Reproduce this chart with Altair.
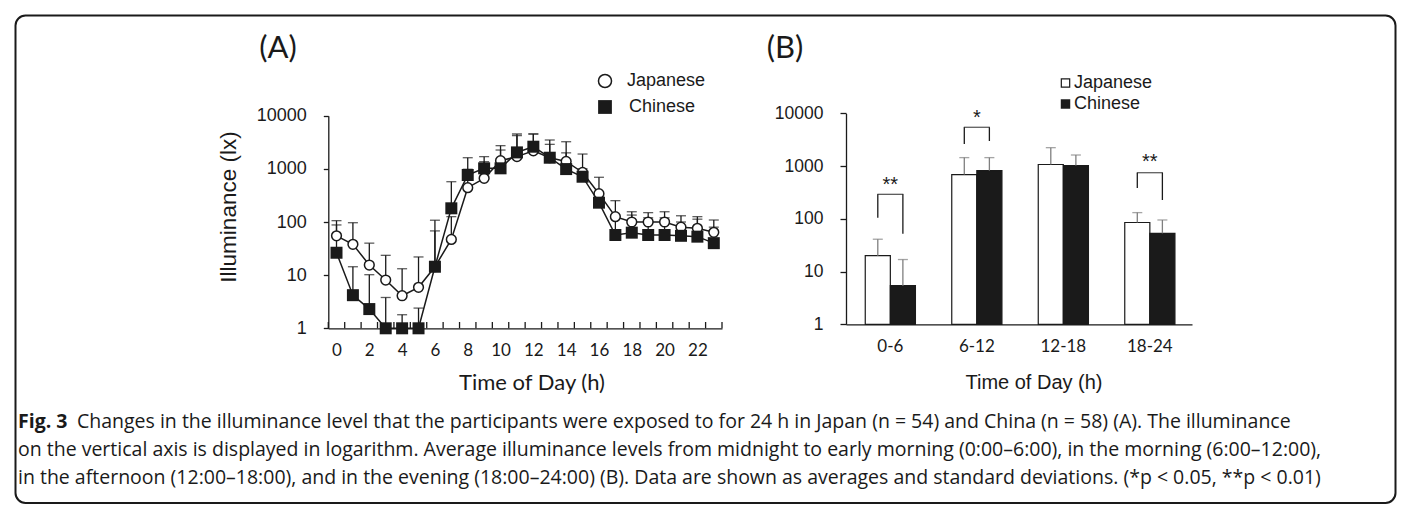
import altair as alt
import pandas as pd

# ---------------- data ----------------
hours = list(range(24))
jp_mean = [55, 38, 15.5, 8.1, 4.1, 5.9, 14.4, 47, 442, 664, 1422, 1698, 2190, 1620,
           1380, 855, 341, 126, 100, 100, 100, 80, 76, 64]
jp_top = [106, 97, 40, 23.6, 13.2, 22, 108, 126, 982, 1364, 2730, 4200, 4530, 3490,
          3240, 1900, 694, 252, 156, 150, 156, 131, 126, 109]
cn_mean = [26.4, 4.2, 2.3, 1, 1, 1, 14.4, 181, 766, 1023, 1023, 2040, 2610, 1620,
           990, 711, 231, 57, 63, 57, 57, 55, 53, 40]
cn_top = [88, 14.4, 10.2, 3.8, 1.8, 2.4, 68, 573, 1620, 1698, 2260, 4530, 4530, 2890,
          2000, 1000, 350, 130, 135, 120, 120, 100, 113, 80]

periods = ["0-6", "6-12", "12-18", "18-24"]
groups = ["Japanese", "Chinese"]
b_jp_mean = [20, 690, 1070, 85]
b_jp_top = [41, 1445, 2230, 131]
b_cn_mean = [5.4, 820, 1020, 53]
b_cn_top = [16.9, 1445, 1620, 95]

sig_periods = ["0-6", "6-12", "18-24"]
sig_labels = ["**", "*", "**"]
sig_top = [291, 5430, 748]
sig_leg_jp = [105, 2618, 384]
sig_leg_cn = [52, 2985, 227]
sig_text_at = [437, 8150, 1194]

yticks = [1, 10, 100, 1000, 10000]
hour_labels = list(range(0, 24, 2))

caption_bold = "Fig. 3"
caption_l1 = ("Changes in the illuminance level that the participants were exposed to for 24 h "
              "in Japan (n = 54) and China (n = 58) (A). The illuminance")
caption_l2 = ("on the vertical axis is displayed in logarithm. Average illuminance levels from "
              "midnight to early morning (0:00\u20136:00), in the morning (6:00\u201312:00),")
caption_l3 = ("in the afternoon (12:00\u201318:00), and in the evening (18:00\u201324:00) (B). "
              "Data are shown as averages and standard deviations. (*p < 0.05, **p < 0.01)")

# ---------------- tables ----------------
dfA = pd.DataFrame({
    "hour": hours + hours,
    "group": ["Japanese"] * 24 + ["Chinese"] * 24,
    "mean": jp_mean + cn_mean,
    "top": jp_top + cn_top,
})
bounds = pd.DataFrame({"b": [h - 0.5 for h in hours] + [hours[-1] + 0.5]})

dfB = pd.DataFrame({
    "period": periods + periods,
    "group": ["Japanese"] * 4 + ["Chinese"] * 4,
    "mean": b_jp_mean + b_cn_mean,
    "top": b_jp_top + b_cn_top,
})
dfLegs = pd.DataFrame({
    "period": sig_periods + sig_periods,
    "group": ["Japanese"] * 3 + ["Chinese"] * 3,
    "bottom": sig_leg_jp + sig_leg_cn,
    "top": sig_top + sig_top,
})
dfSig = pd.DataFrame({"period": sig_periods, "top": sig_top,
                      "label": sig_labels, "at": sig_text_at})

INK = "#1a1a1a"
GREY = "#7f7f7f"
ARIAL = "Liberation Sans"
CAL = "Lato"
CAPF = "Open Sans"
CAPS = 19.5

# ---------------- panel A scales/axes ----------------
xA_scale = alt.Scale(domain=[-0.5, 23.5], range=[328.3, 722], nice=False, zero=False)
yA_scale = alt.Scale(type="log", domain=[1, 10000], range=[328.3, 115.7], nice=False)
axA_x = alt.Axis(orient="bottom", offset=-188.7, values=hour_labels, ticks=False,
                 labelFont=CAL, labelFontSize=17, labelPadding=14, labelColor=INK,
                 labelFlush=False, labelOverlap=False, domainColor=INK, domainWidth=1.3,
                 grid=False, title=None)
axA_y = alt.Axis(orient="left", offset=-328.3, values=yticks, format="d",
                 tickSize=5, tickColor=INK, tickWidth=1.3, labelFont=ARIAL,
                 labelFontSize=18, labelPadding=17, labelColor=INK, labelFlush=False,
                 labelOverlap=False, domainColor=INK, domainWidth=1.3, grid=False,
                 title=None)

def XA(f):
    return alt.X(f, type="quantitative", scale=xA_scale, axis=axA_x)

def YA(f):
    return alt.Y(f, type="quantitative", scale=yA_scale, axis=axA_y)

baseA = alt.Chart(dfA)
a_err = baseA.mark_rule(color=INK, strokeWidth=1.3).encode(
    x=XA("hour"), y=YA("mean"), y2="top")
a_cap = baseA.mark_tick(color=INK, orient="horizontal", size=10, thickness=1.3).encode(
    x=XA("hour"), y=YA("top"))
a_line = baseA.mark_line(color=INK, strokeWidth=1.5).encode(
    x=XA("hour"), y=YA("mean"), detail="group:N")
a_jp = baseA.transform_filter(alt.datum.group == "Japanese").mark_point(
    shape="circle", filled=True, fill="white", stroke=INK, strokeWidth=1.5,
    size=95, opacity=1).encode(x=XA("hour"), y=YA("mean"))
a_cn = baseA.transform_filter(alt.datum.group == "Chinese").mark_point(
    shape="square", filled=True, fill=INK, strokeWidth=0, size=144,
    opacity=1).encode(x=XA("hour"), y=YA("mean"))
a_ticks = alt.Chart(bounds).mark_rule(color=INK, strokeWidth=1.3).encode(
    x=XA("b"), y=alt.value(328.3), y2=alt.value(322))

panelA = alt.layer(a_err, a_cap, a_line, a_jp, a_cn, a_ticks)

# ---------------- panel B scales/axes ----------------
xB_scale = alt.Scale(domain=periods, range=[846, 1192], paddingInner=0.42,
                     paddingOuter=0.21, align=0.53)
yB_scale = alt.Scale(type="log", domain=[1, 10000], range=[324.3, 113.3], nice=False)
off_scale = alt.Scale(domain=groups)
axB_x = alt.Axis(orient="bottom", offset=-192.7, ticks=False, labelAngle=0,
                 labelFont=CAL, labelFontSize=17, labelPadding=14, labelColor=INK,
                 domainColor=INK, domainWidth=1.3, grid=False, title=None)
axB_y = alt.Axis(orient="left", offset=-846, values=yticks, format="d",
                 tickSize=6, tickColor=INK, tickWidth=1.3, labelFont=ARIAL,
                 labelFontSize=17.5, labelPadding=17, labelColor=INK, labelFlush=False,
                 labelOverlap=False, domainColor=INK, domainWidth=1.3, grid=False,
                 title=None)

def XB():
    return alt.X("period:N", sort=periods, scale=xB_scale, axis=axB_x)

def YB(f):
    return alt.Y(f, type="quantitative", scale=yB_scale, axis=axB_y)

XO = alt.XOffset("group:N", sort=groups, scale=off_scale)

baseB = alt.Chart(dfB)
b_bar = baseB.mark_bar(stroke=INK, strokeWidth=1.2).encode(
    x=XB(), xOffset=XO, y=YB("mean"), y2=alt.datum(1),
    fill=alt.Fill("group:N", scale=alt.Scale(domain=groups, range=["#ffffff", INK]),
                  legend=None))
b_err = baseB.mark_rule(color=GREY, strokeWidth=1.3).encode(
    x=XB(), xOffset=XO, y=YB("mean"), y2="top")
b_cap = baseB.mark_tick(color=GREY, orient="horizontal", size=10, thickness=1.3).encode(
    x=XB(), xOffset=XO, y=YB("top"))
b_legs = alt.Chart(dfLegs).mark_rule(color=INK, strokeWidth=1.3).encode(
    x=XB(), xOffset=XO, y=YB("bottom"), y2="top")
b_brtop = alt.Chart(dfSig).mark_tick(color=INK, orient="horizontal", size=26,
                                     thickness=1.3).encode(x=XB(), y=YB("top"))
b_star = alt.Chart(dfSig).mark_text(font=ARIAL, fontSize=20, color=INK,
                                    baseline="middle").encode(
    x=XB(), y=YB("at"), text="label:N")

panelB = alt.layer(b_bar, b_err, b_cap, b_legs, b_brtop, b_star)

# ---------------- annotations ----------------
one = pd.DataFrame({"k": [0]})

def label(txt, x, y, font, size, **kw):
    return alt.Chart(one).mark_text(text=txt, font=font, fontSize=size, color=INK,
                                    **kw).encode(x=alt.value(x), y=alt.value(y))

border = alt.Chart(one).mark_rect(fill=None, stroke=INK, strokeWidth=2,
                                  cornerRadius=10).encode(
    x=alt.value(15.5), x2=alt.value(1395.5), y=alt.value(15.5), y2=alt.value(503))

titleA = label("(A)", 278, 49, CAL, 31, align="center", baseline="middle")
titleB = label("(B)", 785, 49, CAL, 31, align="center", baseline="middle")
ytitleA = label("Illuminance (lx)", 229, 207, ARIAL, 22.5, align="center",
                baseline="middle", angle=270)
xtitleA = label("Time of Day (h)", 532, 383, CAL, 22, align="center", baseline="middle")
xtitleB = label("Time of Day (h)", 1034, 383, ARIAL, 20, align="center",
                baseline="middle")

legA_jp = alt.Chart(one).mark_point(shape="circle", filled=True, fill="white",
                                    stroke=INK, strokeWidth=1.5, size=170,
                                    opacity=1).encode(x=alt.value(605), y=alt.value(81))
legA_cn = alt.Chart(one).mark_point(shape="square", filled=True, fill=INK,
                                    strokeWidth=0, size=190,
                                    opacity=1).encode(x=alt.value(605), y=alt.value(107))
legA_t1 = label("Japanese", 627, 81, ARIAL, 18, align="left", baseline="middle")
legA_t2 = label("Chinese", 629, 107, ARIAL, 18, align="left", baseline="middle")

legB_jp = alt.Chart(one).mark_point(shape="square", filled=True, fill="white",
                                    stroke=INK, strokeWidth=1.2, size=70,
                                    opacity=1).encode(x=alt.value(1065.5), y=alt.value(83))
legB_cn = alt.Chart(one).mark_point(shape="square", filled=True, fill=INK,
                                    strokeWidth=0, size=90,
                                    opacity=1).encode(x=alt.value(1065.5), y=alt.value(104))
legB_t1 = label("Japanese", 1074, 83, ARIAL, 18, align="left", baseline="middle")
legB_t2 = label("Chinese", 1074, 104, ARIAL, 18, align="left", baseline="middle")

cap_b = label(caption_bold, 18, 428, CAPF, CAPS, align="left",
              baseline="alphabetic", fontWeight="bold")
cap_1 = label(caption_l1, 77, 428, CAPF, CAPS, align="left", baseline="alphabetic")
cap_2 = label(caption_l2, 18, 456, CAPF, CAPS, align="left", baseline="alphabetic")
cap_3 = label(caption_l3, 18, 484, CAPF, CAPS, align="left", baseline="alphabetic")

chart = alt.layer(
    panelA, panelB, border, titleA, titleB, ytitleA, xtitleA, xtitleB,
    legA_jp, legA_cn, legA_t1, legA_t2, legB_jp, legB_cn, legB_t1, legB_t2,
    cap_b, cap_1, cap_2, cap_3,
).resolve_scale(x="independent", y="independent").properties(
    width=1408, height=517, padding=0, background="white",
    autosize=alt.AutoSizeParams(type="none"),
).configure_view(stroke=None)

chart.save("out.html", embed_options={"renderer": "svg", "actions": False})
